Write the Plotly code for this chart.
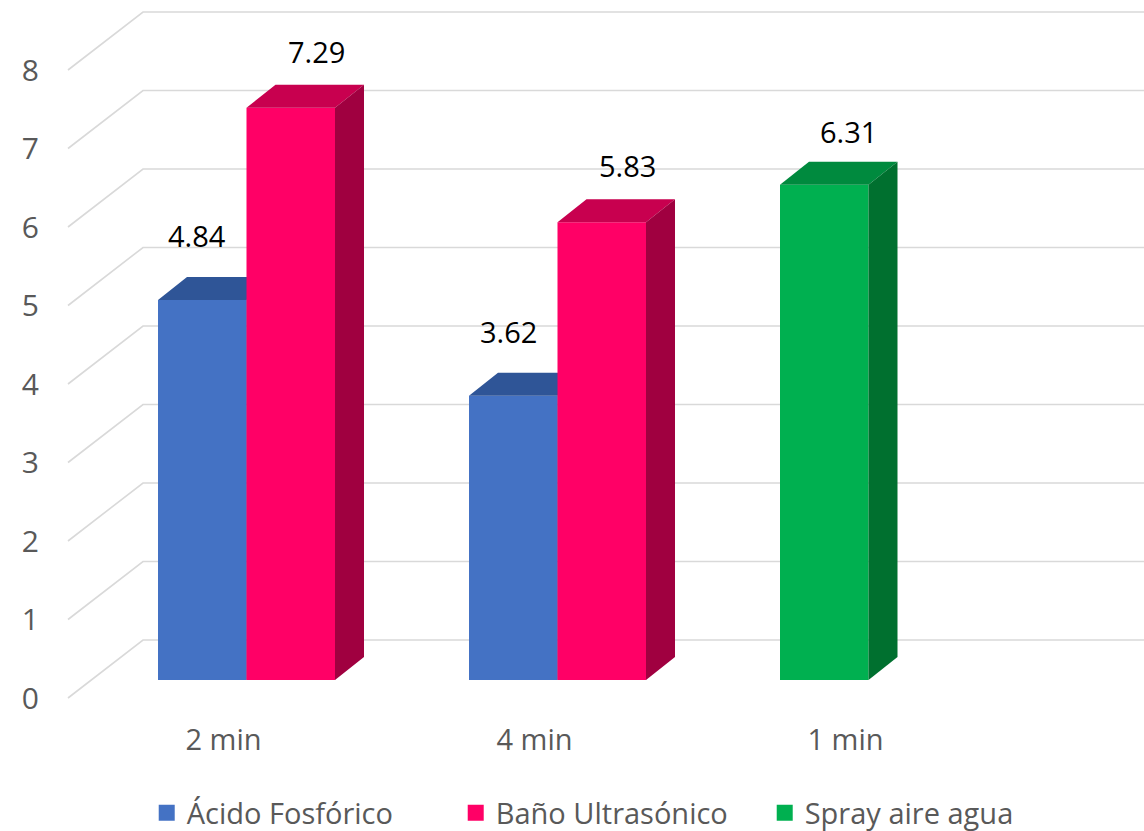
import plotly.graph_objects as go

# ---------------- data ----------------
categories = ["2 min", "4 min", "1 min"]
series_names = ["Ácido Fosfórico", "Baño Ultrasónico", "Spray aire agua"]
acido_fosforico = [4.84, 3.62, None]
bano_ultrasonico = [7.29, 5.83, None]
spray_aire_agua = [None, None, 6.31]
y_tick_values = [0, 1, 2, 3, 4, 5, 6, 7, 8]
y_tick_labels = ["0", "1", "2", "3", "4", "5", "6", "7", "8"]

series_values = [acido_fosforico, bano_ultrasonico, spray_aire_agua]

# ---------------- style / geometry ----------------
W, H = 1144, 831
M_L, M_B = 60, 116
PX_PER_UNIT = 78.5          # pixels per value unit
FRONT_ZERO_PX = 698         # pixel row of value 0 on the front plane
plot_h = H - M_B

FRONT_X0 = 68               # left edge of front plane (x data == pixels)
CAT_W = 311
WALL_DX = 75                # front -> back wall offset (x)
WALL_DY = 58 / PX_PER_UNIT  # front -> back wall offset (y units)
GRID_RIGHT = 1144

BAR_DX0 = 23                # bar front plane offset
BAR_DY0 = 18 / PX_PER_UNIT
BAR_W = 88.5
BAR_DX = 29                 # bar depth
BAR_DY = 23 / PX_PER_UNIT
series_slot = [0, 1, 0]

front_col = ["#4472C4", "#FF0066", "#00B050"]
top_col = ["#2F5597", "#C8004F", "#008A3E"]
side_col = ["#2A4A85", "#A00040", "#00702F"]
label_dx = [-5, 26, 24]
label_dy = [0.82, 0.72, 0.68]
GRID_COL = "#D9D9D9"
TEXT_GRAY = "#595959"
FONT = "Open Sans"

fig = go.Figure()

# gridlines: diagonal on the left + back wall
gx, gy = [], []
for v in y_tick_values:
    gx += [FRONT_X0, FRONT_X0 + WALL_DX, GRID_RIGHT, None]
    gy += [v, v + WALL_DY, v + WALL_DY, None]
fig.add_trace(go.Scatter(x=gx, y=gy, mode="lines",
                         line=dict(color=GRID_COL, width=1.6),
                         hoverinfo="skip", showlegend=False))

# bars
for s, vals in enumerate(series_values):
    fx, fy, tx, ty, sx, sy = [], [], [], [], [], []
    for c, v in enumerate(vals):
        if v is None:
            continue
        center = FRONT_X0 + BAR_DX0 + CAT_W * (c + 0.5)
        x0 = center - BAR_W + series_slot[s] * BAR_W
        x1 = x0 + BAR_W
        b = BAR_DY0
        t = b + v
        fx += [x0, x1, x1, x0, x0, None]
        fy += [b, b, t, t, b, None]
        tx += [x0, x1, x1 + BAR_DX, x0 + BAR_DX, x0, None]
        ty += [t, t, t + BAR_DY, t + BAR_DY, t, None]
        sx += [x1, x1 + BAR_DX, x1 + BAR_DX, x1, x1, None]
        sy += [b, b + BAR_DY, t + BAR_DY, t, b, None]
        fig.add_annotation(x=(x0 + x1) / 2 + label_dx[s], y=t + label_dy[s],
                           text=f"{v:.2f}", showarrow=False,
                           font=dict(family=FONT, size=29, color="#000000"),
                           xanchor="center", yanchor="middle")
    for px_, py_, col in ((fx, fy, front_col[s]), (tx, ty, top_col[s]), (sx, sy, side_col[s])):
        fig.add_trace(go.Scatter(x=px_, y=py_, mode="lines", fill="toself",
                                 fillcolor=col, line=dict(width=0, color=col),
                                 hoverinfo="skip", showlegend=False))
    # legend entry
    fig.add_trace(go.Scatter(x=[None], y=[None], mode="markers", name=series_names[s],
                             marker=dict(symbol="square", size=19, color=front_col[s])))

y_top = FRONT_ZERO_PX / PX_PER_UNIT
y_bot = -(plot_h - FRONT_ZERO_PX) / PX_PER_UNIT

fig.update_layout(
    width=W, height=H,
    margin=dict(l=M_L, r=0, t=0, b=M_B, autoexpand=False),
    paper_bgcolor="white", plot_bgcolor="white",
    font=dict(family=FONT, color=TEXT_GRAY),
    showlegend=True,
    legend=dict(orientation="h", x=0.08, xanchor="left", y=-0.137, yanchor="middle",
                font=dict(size=29, color=TEXT_GRAY, family=FONT),
                entrywidth=264, entrywidthmode="pixels"),
    xaxis=dict(range=[M_L, W], showgrid=False, zeroline=False, showline=False,
               automargin=False,
               tickmode="array",
               tickvals=[FRONT_X0 + CAT_W * (c + 0.5) for c in range(len(categories))],
               ticktext=categories, ticks="", tickfont=dict(size=29, color=TEXT_GRAY),
               ticklabelstandoff=5, fixedrange=True),
    yaxis=dict(range=[y_bot, y_top], showgrid=False, zeroline=False, showline=False,
               automargin=False,
               tickmode="array", tickvals=y_tick_values, ticktext=y_tick_labels,
               ticks="", tickfont=dict(size=30, color=TEXT_GRAY),
               ticklabelstandoff=20, fixedrange=True),
)

fig.write_html("out.html")
